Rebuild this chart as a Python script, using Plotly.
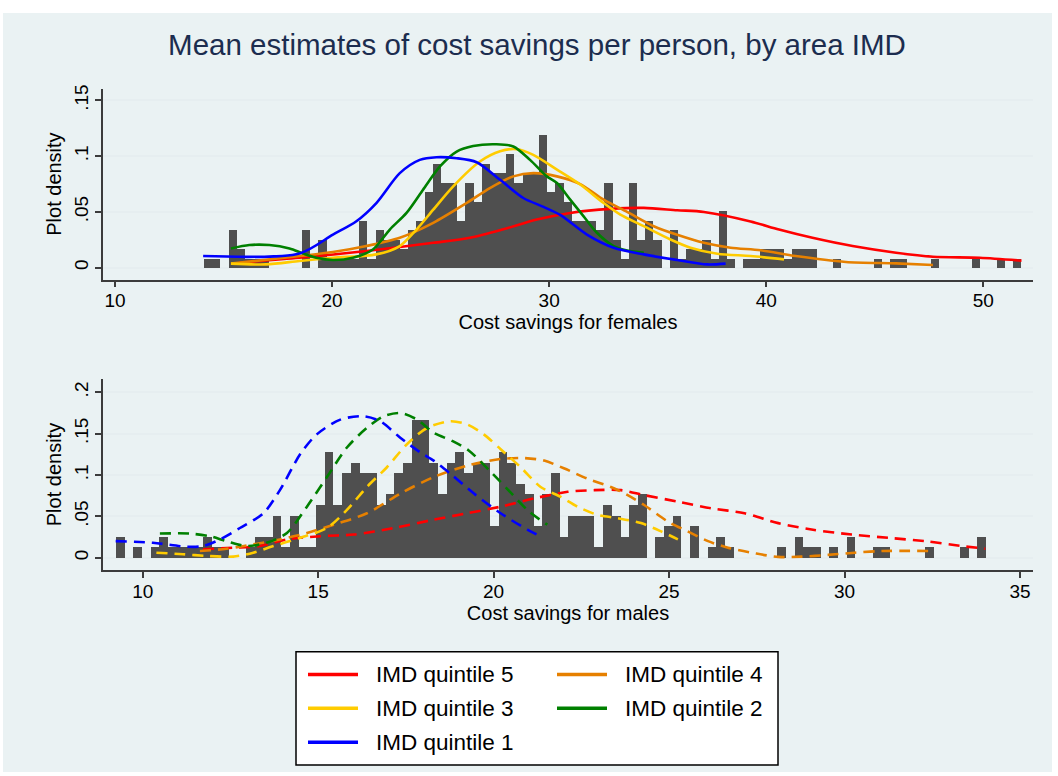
import numpy as np
import plotly.graph_objects as go

# ---------------------------------------------------------------- data
QUINTILES = ["IMD quintile 5", "IMD quintile 4", "IMD quintile 3",
             "IMD quintile 2", "IMD quintile 1"]

# histogram of cost savings for females (100 equal bins)
female_bin_start = 14.10
female_bin_width = 0.3764
female_counts = [
    1, 1, 0, 4, 2, 1, 1, 1, 0, 0, 0, 0, 4, 0, 3, 1, 1, 1, 1, 5,
    1, 4, 3, 3, 2, 4, 5, 8, 11, 9, 9, 5, 9, 7, 11, 10, 10, 12, 9, 10,
    10, 14, 8, 9, 7, 5, 5, 5, 4, 9, 3, 1, 9, 3, 5, 3, 0, 4, 1, 2,
    2, 3, 1, 6, 1, 0, 1, 1, 2, 2, 2, 1, 2, 2, 2, 0, 0, 1, 0, 0,
    0, 0, 1, 0, 1, 1, 0, 0, 0, 1, 0, 0, 0, 0, 1, 0, 0, 1, 0, 1,
]

# histogram of cost savings for males (100 equal bins)
male_bin_start = 9.239
male_bin_width = 0.2479
male_counts = [
    2, 0, 1, 0, 1, 2, 1, 1, 1, 1, 2, 1, 1, 0, 0, 1, 2, 2, 4, 1,
    4, 1, 1, 5, 10, 5, 8, 9, 8, 8, 5, 6, 8, 9, 13, 13, 9, 6, 9, 10,
    8, 9, 9, 3, 10, 9, 7, 6, 3, 6, 8, 2, 4, 4, 4, 1, 5, 4, 2, 5,
    6, 0, 2, 3, 4, 0, 3, 0, 1, 2, 1, 0, 0, 0, 0, 0, 1, 0, 2, 1,
    1, 0, 1, 0, 2, 0, 0, 1, 1, 0, 0, 0, 0, 1, 0, 0, 0, 1, 0, 2,
]

# kernel density estimates by quintile - females
f_q5_x = [15.73, 18.50, 21.58, 24.66, 26.35, 27.89, 29.43, 30.97, 32.82, 34.36,
          35.90, 37.13, 39.28, 40.59, 42.13, 43.98, 45.98, 47.68, 49.83, 51.76]
f_q5_y = [0.0045, 0.0089, 0.0149, 0.0223, 0.0268, 0.0344, 0.0431, 0.0491, 0.0527, 0.0536,
          0.0515, 0.0500, 0.0415, 0.0342, 0.0268, 0.0194, 0.0134, 0.0098, 0.0089, 0.0063]

f_q4_x = [15.34, 18.50, 20.04, 21.58, 23.12, 24.66, 26.20, 27.27, 28.35, 29.27,
          30.36, 31.43, 32.51, 33.59, 34.82, 35.90, 37.13, 38.36, 39.74, 41.36,
          43.67, 45.98, 47.68]
f_q4_y = [0.0036, 0.0104, 0.0140, 0.0194, 0.0268, 0.0402, 0.0580, 0.0714, 0.0819, 0.0848,
          0.0819, 0.0750, 0.0610, 0.0500, 0.0372, 0.0295, 0.0223, 0.0179, 0.0156, 0.0104,
          0.0051, 0.0038, 0.0024]

f_q3_x = [15.34, 16.96, 18.50, 20.04, 22.04, 23.12, 23.89, 24.66, 25.58, 26.81,
          27.74, 28.51, 29.27, 30.36, 31.43, 32.51, 33.28, 34.36, 35.59, 36.51,
          37.75, 39.28, 40.82]
f_q3_y = [0.0036, 0.0029, 0.0060, 0.0089, 0.0119, 0.0194, 0.0342, 0.0520, 0.0730, 0.0953,
          0.1045, 0.1063, 0.1012, 0.0880, 0.0746, 0.0580, 0.0476, 0.0372, 0.0253, 0.0179,
          0.0125, 0.0104, 0.0074]

f_q2_x = [15.34, 16.19, 17.11, 18.04, 18.65, 19.27, 20.04, 20.96, 21.88, 22.66,
          23.43, 24.19, 24.97, 25.74, 26.50, 27.58, 28.35, 29.12, 29.89, 30.36,
          30.97, 31.58, 32.20, 32.97, 33.59, 34.36]
f_q2_y = [0.0172, 0.0203, 0.0203, 0.0172, 0.0128, 0.0089, 0.0069, 0.0089, 0.0163, 0.0342,
          0.0491, 0.0699, 0.0908, 0.1042, 0.1092, 0.1107, 0.1087, 0.0967, 0.0819, 0.0759,
          0.0610, 0.0462, 0.0313, 0.0194, 0.0154, 0.0134]

f_q1_x = [14.06, 18.50, 20.04, 21.12, 22.04, 23.12, 24.04, 24.81, 25.74, 26.66,
          27.74, 28.81, 29.74, 30.51, 31.74, 32.97, 34.36, 35.90, 37.28, 38.13]
f_q1_y = [0.0104, 0.0128, 0.0297, 0.0417, 0.0580, 0.0848, 0.0967, 0.0991, 0.0982, 0.0946,
          0.0788, 0.0625, 0.0545, 0.0473, 0.0297, 0.0179, 0.0119, 0.0069, 0.0029, 0.0036]

# kernel density estimates by quintile - males
m_q5_x = [11.72, 12.58, 13.34, 14.11, 15.06, 16.01, 17.15, 18.29, 19.25, 20.20,
          21.15, 22.11, 22.87, 23.63, 24.29, 25.25, 26.20, 27.15, 28.11, 29.06,
          30.20, 31.25, 32.29, 33.34, 34.01]
m_q5_y = [0.0104, 0.0123, 0.0143, 0.0223, 0.0262, 0.0282, 0.0361, 0.0461, 0.0539, 0.0619,
          0.0718, 0.0798, 0.0818, 0.0818, 0.0758, 0.0679, 0.0599, 0.0539, 0.0420, 0.0342,
          0.0282, 0.0242, 0.0202, 0.0143, 0.0111]

m_q4_x = [11.63, 12.39, 13.15, 13.91, 14.68, 15.44, 16.39, 17.34, 18.29, 19.25,
          20.20, 20.87, 21.44, 22.00, 22.68, 23.34, 23.82, 24.29, 24.96, 25.53,
          26.11, 26.68, 27.44, 28.11, 28.77, 29.53, 30.29, 31.06, 32.49]
m_q4_y = [0.0083, 0.0111, 0.0163, 0.0223, 0.0301, 0.0401, 0.0539, 0.0777, 0.0976, 0.1115,
          0.1194, 0.1206, 0.1175, 0.1083, 0.0956, 0.0857, 0.0758, 0.0639, 0.0440, 0.0321,
          0.0202, 0.0123, 0.0056, 0.0012, 0.0015, 0.0036, 0.0063, 0.0083, 0.0083]

m_q3_x = [10.39, 11.15, 11.82, 12.58, 13.15, 13.72, 14.49, 15.25, 15.82, 16.39,
          16.96, 17.53, 18.11, 18.77, 19.25, 19.72, 20.20, 20.77, 21.34, 21.91,
          22.39, 22.96, 23.53, 24.20, 24.77, 25.25]
m_q3_y = [0.0063, 0.0044, 0.0024, 0.0015, 0.0063, 0.0143, 0.0242, 0.0361, 0.0580, 0.0857,
          0.1095, 0.1373, 0.1571, 0.1651, 0.1611, 0.1492, 0.1313, 0.1095, 0.0857, 0.0738,
          0.0619, 0.0520, 0.0480, 0.0420, 0.0321, 0.0223]

m_q2_x = [10.49, 11.34, 11.91, 12.39, 12.96, 13.53, 14.11, 14.68, 15.25, 15.82,
          16.39, 16.87, 17.34, 17.82, 18.29, 18.82, 19.29, 19.87, 20.44, 21.01,
          21.53]
m_q2_y = [0.0294, 0.0294, 0.0262, 0.0202, 0.0143, 0.0182, 0.0301, 0.0619, 0.0976, 0.1333,
          0.1571, 0.1711, 0.1750, 0.1670, 0.1512, 0.1413, 0.1298, 0.1060, 0.0810, 0.0560,
          0.0401]

m_q1_x = [9.23, 10.29, 11.25, 11.72, 12.20, 12.77, 13.44, 13.91, 14.49, 14.96,
          15.63, 16.29, 16.77, 17.34, 17.91, 18.29, 18.77, 19.44, 20.20, 20.96,
          21.39]
m_q1_y = [0.0202, 0.0182, 0.0135, 0.0143, 0.0223, 0.0361, 0.0539, 0.0818, 0.1254, 0.1492,
          0.1670, 0.1711, 0.1651, 0.1452, 0.1274, 0.1175, 0.1015, 0.0777, 0.0539, 0.0342,
          0.0250]

female_kde = [(f_q5_x, f_q5_y), (f_q4_x, f_q4_y), (f_q3_x, f_q3_y),
              (f_q2_x, f_q2_y), (f_q1_x, f_q1_y)]
male_kde = [(m_q5_x, m_q5_y), (m_q4_x, m_q4_y), (m_q3_x, m_q3_y),
            (m_q2_x, m_q2_y), (m_q1_x, m_q1_y)]

female_ticks = [10, 20, 30, 40, 50]
male_ticks = [10, 15, 20, 25, 30, 35]
female_density_ticks = [0, 0.05, 0.10, 0.15]
female_density_labels = ["0", ".05", ".1", ".15"]
male_density_ticks = [0, 0.05, 0.10, 0.15, 0.20]
male_density_labels = ["0", ".05", ".1", ".15", ".2"]

# ---------------------------------------------------------------- style
W, H = 1058, 776
BG = "#EAF2F3"
GRID = "#E6EEF0"
AXIS = "#3C3C3C"
BAR = "#4F4F4F"
FONT = "Liberation Sans, Arial, sans-serif"
COLORS = ["#FF0000", "#E68000", "#FFCC00", "#008000", "#0000FF"]


def px_x(p):
    return p / W


def px_y(p):
    return 1 - p / H


def hist_trace(start, width, counts, xa, ya):
    counts = np.asarray(counts, dtype=float)
    density = counts / (counts.sum() * width)
    centers = start + width * (np.arange(len(counts)) + 0.5)
    return go.Bar(x=centers, y=density, width=width, xaxis=xa, yaxis=ya,
                  marker=dict(color=BAR, line=dict(width=0)),
                  showlegend=False, hoverinfo="skip")


fig = go.Figure()

fig.add_trace(hist_trace(female_bin_start, female_bin_width, female_counts, "x", "y"))
for (xs, ys), col, name in zip(female_kde, COLORS, QUINTILES):
    fig.add_trace(go.Scatter(x=xs, y=ys, mode="lines", name=name, xaxis="x", yaxis="y",
                             line=dict(color=col, width=2.6, shape="spline", smoothing=0.8),
                             showlegend=False))

fig.add_trace(hist_trace(male_bin_start, male_bin_width, male_counts, "x2", "y2"))
for (xs, ys), col, name in zip(male_kde, COLORS, QUINTILES):
    fig.add_trace(go.Scatter(x=xs, y=ys, mode="lines", name=name, xaxis="x2", yaxis="y2",
                             line=dict(color=col, width=2.6, shape="spline", smoothing=0.8,
                                       dash="11px,7px"),
                             showlegend=False))

tick_font = dict(family=FONT, size=19, color="black")
title_font = dict(family=FONT, size=20, color="black")

xcommon = dict(showline=True, linecolor=AXIS, linewidth=1.5, ticks="outside",
               ticklen=6, tickwidth=1.5, tickcolor=AXIS, showgrid=False,
               zeroline=False, tickfont=tick_font, ticklabelstandoff=-3)
ycommon = dict(showline=True, linecolor=AXIS, linewidth=1.5, ticks="outside",
               ticklen=6, tickwidth=1.5, tickcolor=AXIS, showgrid=True,
               gridcolor=GRID, gridwidth=2, zeroline=False, tickangle=-90,
               tickfont=tick_font)

fig.update_layout(
    width=W, height=H,
    margin=dict(l=0, r=0, t=0, b=0),
    paper_bgcolor="white",
    plot_bgcolor="white",
    bargap=0,
    xaxis=dict(domain=[px_x(103), px_x(1033)], anchor="y", range=[9.447, 52.29],
               tickvals=female_ticks,
               title=dict(text="Cost savings for females", font=title_font, standoff=1),
               **xcommon),
    yaxis=dict(domain=[px_y(277), px_y(85)], anchor="x", range=[-0.0107, 0.1607],
               tickvals=female_density_ticks, ticktext=female_density_labels,
               title=dict(text="Plot density", font=title_font, standoff=4),
               **ycommon),
    xaxis2=dict(domain=[px_x(103), px_x(1033)], anchor="y2", range=[8.869, 35.37],
                tickvals=male_ticks,
                title=dict(text="Cost savings for males", font=title_font, standoff=1),
                **xcommon),
    yaxis2=dict(domain=[px_y(569), px_y(377)], anchor="x2", range=[-0.0147, 0.216],
                tickvals=male_density_ticks, ticktext=male_density_labels,
                title=dict(text="Plot density", font=title_font, standoff=4),
                **ycommon),
    title=dict(text="Mean estimates of cost savings per person, by area IMD",
               x=px_x(537), xanchor="center", y=px_y(45), yanchor="middle",
               font=dict(family=FONT, size=29.5, color="#1C2D4F")),
)

# light graph-region background
shapes = [dict(type="rect", xref="paper", yref="paper", layer="below",
               x0=px_x(3), x1=px_x(1052), y0=px_y(772), y1=px_y(9),
               fillcolor=BG, line=dict(width=0))]

# legend box with two columns of entries
shapes.append(dict(type="rect", xref="paper", yref="paper",
                   x0=px_x(296), x1=px_x(778), y0=px_y(765), y1=px_y(651),
                   fillcolor="white", line=dict(color="black", width=1.5)))
annotations = []
col_x = [308, 557]
row_y = [674, 708, 742]
for i, (name, col) in enumerate(zip(QUINTILES, COLORS)):
    r, c = divmod(i, 2)
    x0 = col_x[c]
    y0 = row_y[r]
    shapes.append(dict(type="line", xref="paper", yref="paper",
                       x0=px_x(x0), x1=px_x(x0 + 50), y0=px_y(y0), y1=px_y(y0),
                       line=dict(color=col, width=3.5)))
    annotations.append(dict(text=name, xref="paper", yref="paper",
                            x=px_x(x0 + 66), y=px_y(y0), xanchor="left",
                            yanchor="middle", showarrow=False,
                            font=dict(family=FONT, size=22.5, color="black")))

fig.update_layout(shapes=shapes, annotations=annotations)

fig.write_html("out.html")
